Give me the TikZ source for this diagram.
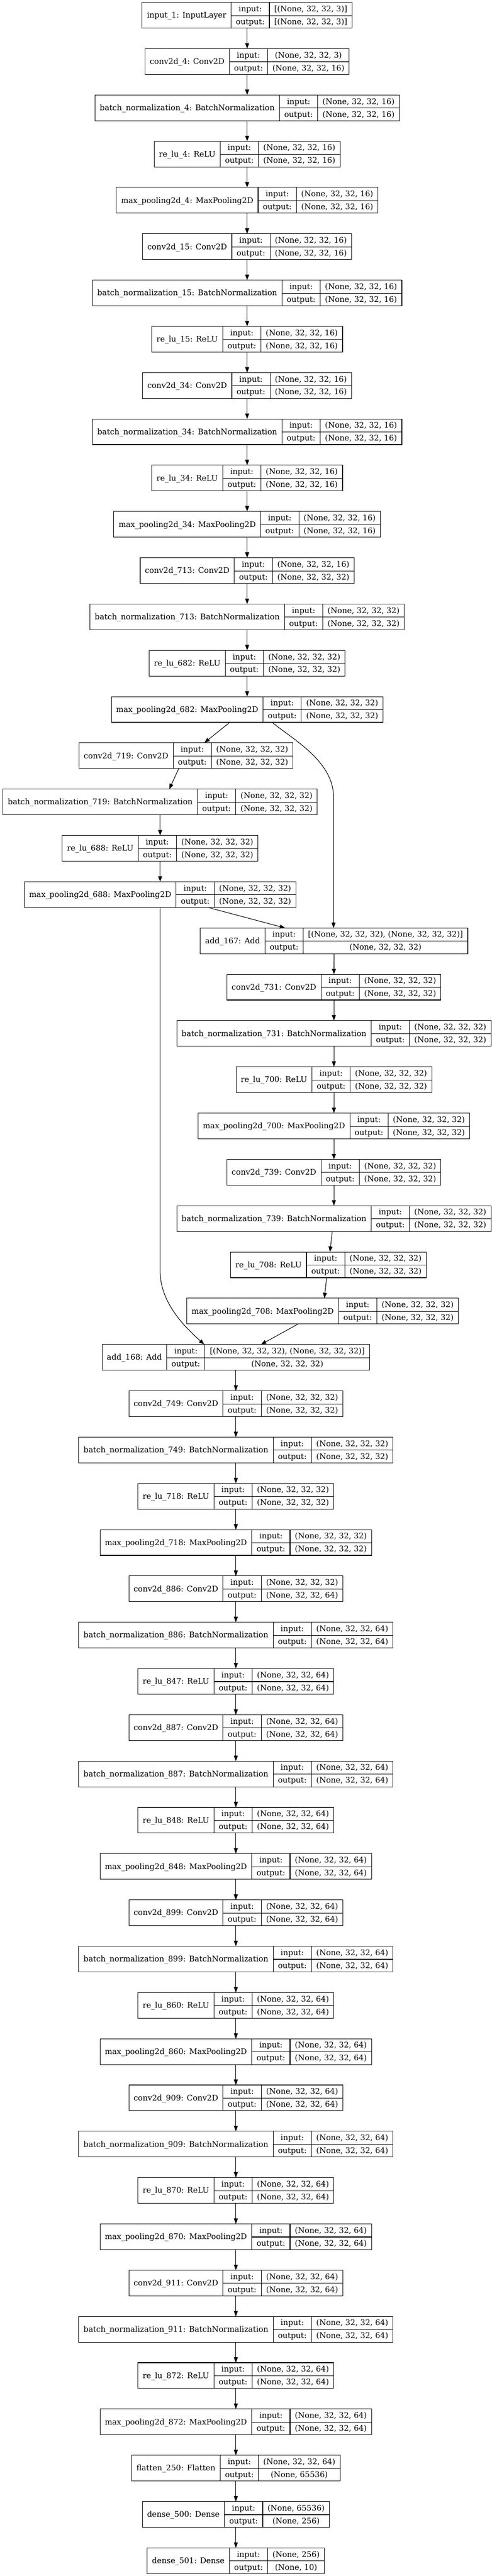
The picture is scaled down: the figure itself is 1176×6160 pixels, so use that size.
\documentclass[tikz,border=0pt]{standalone}
\usepackage{fontspec}
\newfontfamily\recfam{DejaVu Serif}
\usetikzlibrary{arrows.meta,calc}
\newcommand\recfont{\recfam\fontsize{18.67pt}{22pt}\selectfont}
\newcommand\recstrut{\rule[-8.875pt]{0pt}{30.75pt}}
\setlength\arrayrulewidth{1.33pt}
\setlength\tabcolsep{11.5pt}
\renewcommand\arraystretch{0}
\tikzset{
 recbox/.style={draw=black, line width=1.33pt, inner sep=0pt, outer sep=0pt, rectangle, font=\recfont, text=black},
 edge/.style={draw=black, line width=1.33pt, -{Triangle[length=13pt,width=9.5pt]}},
}
\newcommand\recnode[6]{%
 \node[recbox] (#1) at (#2,{36.45+110.67*#3}) {\begin{tabular}{c|c|c}
   & input:\recstrut & #5\\ \cline{2-3}
   \raisebox{15.375pt}[0pt][0pt]{#4} & output:\recstrut & #6
 \end{tabular}};
}
\def\sIII{(None, 32, 32, 3)}
\def\sXVI{(None, 32, 32, 16)}
\def\sXXXII{(None, 32, 32, 32)}
\def\sLXIV{(None, 32, 32, 64)}
\begin{document}
\begin{tikzpicture}[x=1pt,y=-1pt]
\useasboundingbox[fill=white] (0,0) rectangle (1176,6160);
% top column
\recnode{in1}{591}{0}{input\_1: InputLayer}{[\sIII]}{[\sIII]}
\recnode{c4}{591}{1}{conv2d\_4: Conv2D}{\sIII}{\sXVI}
\recnode{bn4}{591}{2}{batch\_normalization\_4: BatchNormalization}{\sXVI}{\sXVI}
\recnode{r4}{591}{3}{re\_lu\_4: ReLU}{\sXVI}{\sXVI}
\recnode{mp4}{591}{4}{max\_pooling2d\_4: MaxPooling2D}{\sXVI}{\sXVI}
\recnode{c15}{591}{5}{conv2d\_15: Conv2D}{\sXVI}{\sXVI}
\recnode{bn15}{591}{6}{batch\_normalization\_15: BatchNormalization}{\sXVI}{\sXVI}
\recnode{r15}{591}{7}{re\_lu\_15: ReLU}{\sXVI}{\sXVI}
\recnode{c34}{591}{8}{conv2d\_34: Conv2D}{\sXVI}{\sXVI}
\recnode{bn34}{591}{9}{batch\_normalization\_34: BatchNormalization}{\sXVI}{\sXVI}
\recnode{r34}{591}{10}{re\_lu\_34: ReLU}{\sXVI}{\sXVI}
\recnode{mp34}{591}{11}{max\_pooling2d\_34: MaxPooling2D}{\sXVI}{\sXVI}
\recnode{c713}{591}{12}{conv2d\_713: Conv2D}{\sXVI}{\sXXXII}
\recnode{bn713}{591}{13}{batch\_normalization\_713: BatchNormalization}{\sXXXII}{\sXXXII}
\recnode{r682}{591}{14}{re\_lu\_682: ReLU}{\sXXXII}{\sXXXII}
\recnode{mp682}{591}{15}{max\_pooling2d\_682: MaxPooling2D}{\sXXXII}{\sXXXII}
% left branch
\recnode{c719}{444.8}{16}{conv2d\_719: Conv2D}{\sXXXII}{\sXXXII}
\recnode{bn719}{383}{17}{batch\_normalization\_719: BatchNormalization}{\sXXXII}{\sXXXII}
\recnode{r688}{383}{18}{re\_lu\_688: ReLU}{\sXXXII}{\sXXXII}
\recnode{mp688}{383}{19}{max\_pooling2d\_688: MaxPooling2D}{\sXXXII}{\sXXXII}
% right column
\recnode{add167}{798.8}{20}{add\_167: Add}{[\sXXXII, \sXXXII]}{\sXXXII}
\recnode{c731}{798.5}{21}{conv2d\_731: Conv2D}{\sXXXII}{\sXXXII}
\recnode{bn731}{798.5}{22}{batch\_normalization\_731: BatchNormalization}{\sXXXII}{\sXXXII}
\recnode{r700}{798.5}{23}{re\_lu\_700: ReLU}{\sXXXII}{\sXXXII}
\recnode{mp700}{798.5}{24}{max\_pooling2d\_700: MaxPooling2D}{\sXXXII}{\sXXXII}
\recnode{c739}{798.5}{25}{conv2d\_739: Conv2D}{\sXXXII}{\sXXXII}
\recnode{bn739}{798.5}{26}{batch\_normalization\_739: BatchNormalization}{\sXXXII}{\sXXXII}
\recnode{r708}{785.5}{27}{re\_lu\_708: ReLU}{\sXXXII}{\sXXXII}
\recnode{mp708}{771.5}{28}{max\_pooling2d\_708: MaxPooling2D}{\sXXXII}{\sXXXII}
% bottom column
\recnode{add168}{564}{29}{add\_168: Add}{[\sXXXII, \sXXXII]}{\sXXXII}
\recnode{c749}{564}{30}{conv2d\_749: Conv2D}{\sXXXII}{\sXXXII}
\recnode{bn749}{564}{31}{batch\_normalization\_749: BatchNormalization}{\sXXXII}{\sXXXII}
\recnode{r718}{564}{32}{re\_lu\_718: ReLU}{\sXXXII}{\sXXXII}
\recnode{mp718}{564}{33}{max\_pooling2d\_718: MaxPooling2D}{\sXXXII}{\sXXXII}
\recnode{c886}{564}{34}{conv2d\_886: Conv2D}{\sXXXII}{\sLXIV}
\recnode{bn886}{564}{35}{batch\_normalization\_886: BatchNormalization}{\sLXIV}{\sLXIV}
\recnode{r847}{564}{36}{re\_lu\_847: ReLU}{\sLXIV}{\sLXIV}
\recnode{c887}{564}{37}{conv2d\_887: Conv2D}{\sLXIV}{\sLXIV}
\recnode{bn887}{564}{38}{batch\_normalization\_887: BatchNormalization}{\sLXIV}{\sLXIV}
\recnode{r848}{564}{39}{re\_lu\_848: ReLU}{\sLXIV}{\sLXIV}
\recnode{mp848}{564}{40}{max\_pooling2d\_848: MaxPooling2D}{\sLXIV}{\sLXIV}
\recnode{c899}{564}{41}{conv2d\_899: Conv2D}{\sLXIV}{\sLXIV}
\recnode{bn899}{564}{42}{batch\_normalization\_899: BatchNormalization}{\sLXIV}{\sLXIV}
\recnode{r860}{564}{43}{re\_lu\_860: ReLU}{\sLXIV}{\sLXIV}
\recnode{mp860}{564}{44}{max\_pooling2d\_860: MaxPooling2D}{\sLXIV}{\sLXIV}
\recnode{c909}{564}{45}{conv2d\_909: Conv2D}{\sLXIV}{\sLXIV}
\recnode{bn909}{564}{46}{batch\_normalization\_909: BatchNormalization}{\sLXIV}{\sLXIV}
\recnode{r870}{564}{47}{re\_lu\_870: ReLU}{\sLXIV}{\sLXIV}
\recnode{mp870}{564}{48}{max\_pooling2d\_870: MaxPooling2D}{\sLXIV}{\sLXIV}
\recnode{c911}{564}{49}{conv2d\_911: Conv2D}{\sLXIV}{\sLXIV}
\recnode{bn911}{564}{50}{batch\_normalization\_911: BatchNormalization}{\sLXIV}{\sLXIV}
\recnode{r872}{564}{51}{re\_lu\_872: ReLU}{\sLXIV}{\sLXIV}
\recnode{mp872}{564}{52}{max\_pooling2d\_872: MaxPooling2D}{\sLXIV}{\sLXIV}
\recnode{fl250}{564}{53}{flatten\_250: Flatten}{\sLXIV}{(None, 65536)}
\recnode{d500}{564}{54}{dense\_500: Dense}{(None, 65536)}{(None, 256)}
\recnode{d501}{564}{55}{dense\_501: Dense}{(None, 256)}{(None, 10)}
% straight vertical edges
\foreach \a/\b in {in1/c4,c4/bn4,bn4/r4,r4/mp4,mp4/c15,c15/bn15,bn15/r15,r15/c34,c34/bn34,bn34/r34,r34/mp34,mp34/c713,c713/bn713,bn713/r682,r682/mp682,
  bn719/r688,r688/mp688,
  add167/c731,c731/bn731,bn731/r700,r700/mp700,mp700/c739,c739/bn739,
  add168/c749,c749/bn749,bn749/r718,r718/mp718,mp718/c886,c886/bn886,bn886/r847,r847/c887,c887/bn887,bn887/r848,r848/mp848,mp848/c899,c899/bn899,bn899/r860,r860/mp860,mp860/c909,c909/bn909,bn909/r870,r870/mp870,mp870/c911,c911/bn911,bn911/r872,r872/mp872,mp872/fl250,fl250/d500,d500/d501}
  {\draw[edge] (\a.south) -- (\b.north);}
% branch edges
\draw[edge] ([xshift=-41.5pt]mp682.south) -- ([xshift=43.7pt]c719.north);
\draw[edge] ([xshift=-17.4pt]c719.south) -- ([xshift=21.8pt]bn719.north);
\coordinate (k1) at (797.6,1906);
\draw[edge] ([xshift=59.6pt]mp682.south) .. controls (700,1768) and (797.6,1820) .. (k1) -- ([xshift=-1.2pt]add167.north);
\draw[edge] ([xshift=114.3pt]mp688.south) -- ([xshift=-116.8pt]add167.north);
\coordinate (k2) at (383,3040);
\draw[edge] (mp688.south) -- (k2) .. controls (383,3120) and (450,3180) .. ([xshift=-75.5pt]add168.north);
\draw[edge] ([xshift=-3.9pt]bn739.south) -- ([xshift=3.5pt]r708.north);
\draw[edge] ([xshift=-4.5pt]r708.south) -- ([xshift=4.2pt]mp708.north);
\draw[edge] ([xshift=-58.5pt]mp708.south) -- ([xshift=60pt]add168.north);
\end{tikzpicture}
\end{document}
